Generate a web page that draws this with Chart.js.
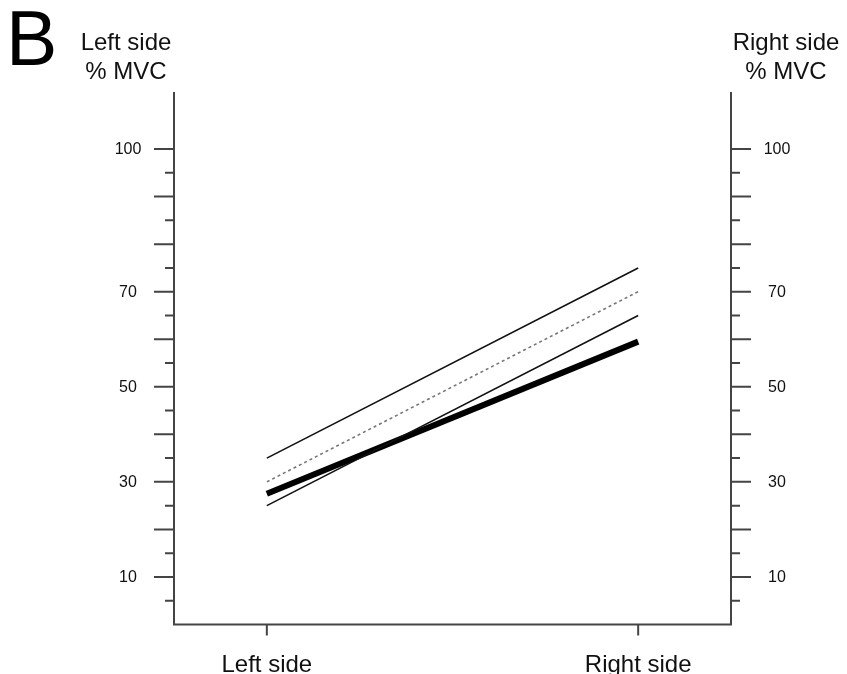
<!DOCTYPE html>
<html>
<head>
<meta charset="utf-8">
<script src="https://cdn.jsdelivr.net/npm/chart.js@4"></script>
<style>
html,body{margin:0;padding:0;background:#fff;}
#wrap{width:847px;height:674px;position:relative;}
</style>
</head>
<body>
<div id="wrap"><canvas id="c" width="847" height="674"></canvas></div>
<script>
// ---- data ----
const categories = ['Left side', 'Right side'];
const seriesUpper = [35, 75];      // thin solid, top
const seriesDotted = [30, 70];     // gray dotted
const seriesLower = [25, 65];      // thin solid, bottom
const seriesThick = [27.5, 59.5];  // thick solid
const yMajorTicks = [10, 20, 30, 40, 50, 60, 70, 80, 90, 100];
const yMinorTicks = [5, 15, 25, 35, 45, 55, 65, 75, 85, 95];
const yTickLabels = [10, 30, 50, 70, 100];
const panelLetter = 'B';
const leftAxisTitle = ['Left side', '% MVC'];
const rightAxisTitle = ['Right side', '% MVC'];

const toPoints = arr => arr.map((v, i) => ({x: i, y: v}));
const AX = '#444';
const FONT = '"Liberation Sans", Arial, Helvetica, sans-serif';

const axesPlugin = {
  id: 'customAxes',
  afterDraw(chart) {
    const ctx = chart.ctx;
    const xs = chart.scales.x, ys = chart.scales.y;
    const a = chart.chartArea;
    ctx.save();
    ctx.strokeStyle = AX;
    ctx.lineWidth = 2;
    ctx.lineCap = 'butt';
    // axis lines
    ctx.beginPath();
    ctx.moveTo(a.left, a.top); ctx.lineTo(a.left, a.bottom); ctx.lineTo(a.right, a.bottom); ctx.lineTo(a.right, a.top);
    ctx.stroke();
    // y ticks
    const tick = (v, len) => {
      const y = ys.getPixelForValue(v);
      ctx.beginPath();
      ctx.moveTo(a.left - len, y); ctx.lineTo(a.left, y);
      ctx.moveTo(a.right, y); ctx.lineTo(a.right + len, y);
      ctx.stroke();
    };
    yMajorTicks.forEach(v => tick(v, 20));
    yMinorTicks.forEach(v => tick(v, 9));
    // x ticks
    categories.forEach((c, i) => {
      const x = xs.getPixelForValue(i);
      ctx.beginPath();
      ctx.moveTo(x, a.bottom); ctx.lineTo(x, a.bottom + 11);
      ctx.stroke();
    });
    // y tick labels
    ctx.fillStyle = '#111';
    ctx.font = '16px ' + FONT;
    ctx.textBaseline = 'middle';
    yTickLabels.forEach(v => {
      const y = ys.getPixelForValue(v) + 1;
      ctx.textAlign = 'center';
      ctx.fillText(String(v), a.left - 46, y);
      ctx.fillText(String(v), a.right + 46, y);
    });
    // category labels
    ctx.font = '24px ' + FONT;
    ctx.textAlign = 'center';
    ctx.textBaseline = 'alphabetic';
    categories.forEach((c, i) => {
      ctx.fillText(c, xs.getPixelForValue(i), a.bottom + 47);
    });
    // axis titles
    leftAxisTitle.forEach((t, i) => ctx.fillText(t, a.left - 48, 50 + i * 29));
    rightAxisTitle.forEach((t, i) => ctx.fillText(t, a.right + 55, 50 + i * 29));
    // panel letter
    ctx.font = '77px ' + FONT;
    ctx.textAlign = 'left';
    ctx.fillStyle = '#000';
    ctx.fillText(panelLetter, 6, 65);
    ctx.restore();
  }
};

new Chart(document.getElementById('c'), {
  type: 'line',
  data: {
    datasets: [
      {data: toPoints(seriesUpper), borderColor: '#111', borderWidth: 1.6, pointRadius: 0},
      {data: toPoints(seriesDotted), borderColor: '#777', borderWidth: 1.6, borderDash: [3, 3], pointRadius: 0},
      {data: toPoints(seriesLower), borderColor: '#111', borderWidth: 1.6, pointRadius: 0},
      {data: toPoints(seriesThick), borderColor: '#000', borderWidth: 6, pointRadius: 0}
    ]
  },
  options: {
    responsive: false,
    animation: false,
    devicePixelRatio: 1,
    layout: {padding: {left: 174, right: 116, top: 92, bottom: 49.5}},
    plugins: {legend: {display: false}, tooltip: {enabled: false}, title: {display: false}},
    scales: {
      x: {type: 'linear', min: -0.25, max: 1.25, display: false},
      y: {type: 'linear', min: 0, max: 112, display: false}
    }
  },
  plugins: [axesPlugin]
});
</script>
</body>
</html>
